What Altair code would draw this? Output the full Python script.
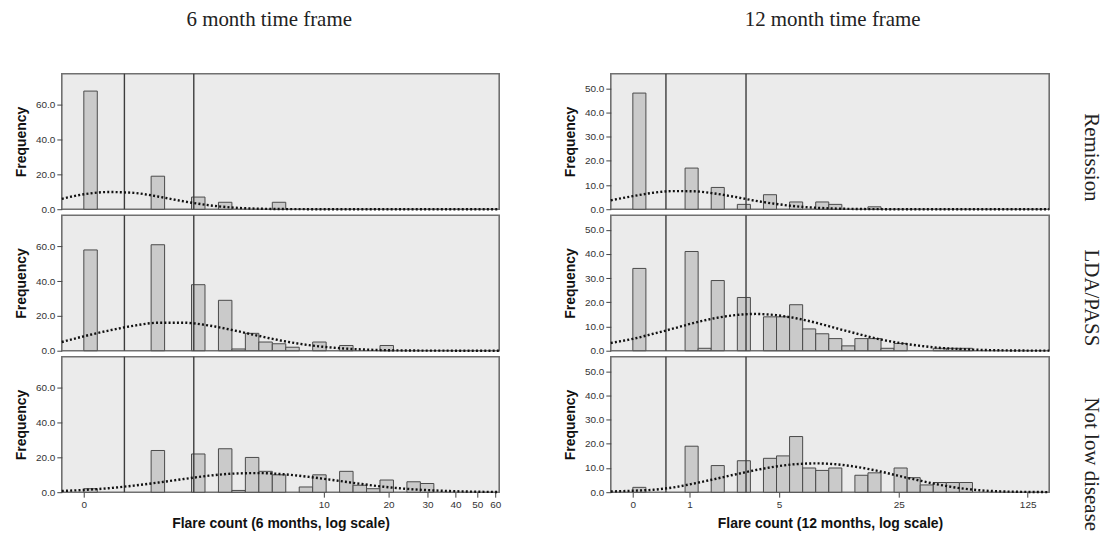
import math
import altair as alt
import pandas as pd

# ---------------- data ----------------
ROW_NAMES = ["Remission", "LDA/PASS", "Not low disease"]

# histogram bins: index of equal-width bins on the log(count + 1) axis
BIN_W6 = 0.1345
BIN_W12 = 0.16

bins6_rem = [0, 5, 8, 10, 14]
freq6_rem = [68, 19, 7, 4, 4]
bins6_lda = [0, 5, 8, 10, 11, 12, 13, 14, 15, 17, 19, 22]
freq6_lda = [58, 61, 38, 29, 1, 10, 5, 4, 2, 5, 3, 3]
bins6_nld = [0, 5, 8, 10, 11, 12, 13, 14, 16, 17, 19, 20, 21, 22, 24, 25]
freq6_nld = [2, 24, 22, 25, 1, 20, 12, 10, 3, 10, 12, 4, 2, 7, 6, 5]

bins12_rem = [0, 4, 6, 8, 10, 12, 14, 15, 18]
freq12_rem = [48, 17, 9, 2, 6, 3, 3, 2, 1]
bins12_lda = [0, 4, 5, 6, 8, 10, 11, 12, 13, 14, 15, 16, 17, 18, 19, 20, 23, 24, 25]
freq12_lda = [34, 41, 1, 29, 22, 14, 14, 19, 9, 7, 5, 2, 5, 5, 1, 3, 1, 1, 1]
bins12_nld = [0, 4, 6, 8, 10, 11, 12, 13, 14, 15, 17, 18, 20, 21, 22, 23, 24, 25]
freq12_nld = [2, 19, 11, 13, 14, 15, 23, 10, 9, 10, 7, 8, 10, 6, 3, 4, 4, 4]

# fitted normal curves (dotted), read at points on the log(count + 1) axis
curve6_x = [-0.22, 0, 0.25, 0.5, 0.75, 1.0, 1.25, 1.5, 1.75, 2.0, 2.25, 2.5,
            2.75, 3.0, 3.25, 3.5, 3.75, 4.0, 4.15]
curve6_rem = [6.0, 8.6, 9.9, 9.4, 7.2, 4.5, 2.3, 0.9, 0.3, 0.1, 0.02, 0, 0, 0, 0, 0, 0, 0, 0]
curve6_lda = [5.0, 8.3, 11.6, 14.4, 16.1, 16.1, 14.5, 11.7, 8.5, 5.5, 3.2, 1.7, 0.8,
              0.33, 0.12, 0.04, 0.01, 0, 0]
curve6_nld = [0.7, 1.3, 2.3, 3.8, 5.6, 7.6, 9.5, 10.7, 11.0, 10.3, 8.8, 6.9, 4.9,
              3.1, 1.8, 1.0, 0.5, 0.2, 0.13]

curve12_x = [-0.27, 0, 0.25, 0.5, 0.75, 1.0, 1.25, 1.5, 1.75, 2.0, 2.25, 2.5, 2.75,
             3.0, 3.25, 3.5, 3.75, 4.0, 4.25, 4.5, 4.75, 5.0, 5.1]
curve12_rem = [3.7, 5.4, 6.8, 7.5, 7.4, 6.5, 5.1, 3.5, 2.2, 1.2, 0.6, 0.25, 0.1,
               0.03, 0, 0, 0, 0, 0, 0, 0, 0, 0]
curve12_lda = [3.2, 4.9, 7.0, 9.2, 11.5, 13.4, 14.7, 15.2, 14.7, 13.4, 11.5, 9.2, 7.0,
               4.9, 3.3, 2.1, 1.2, 0.7, 0.35, 0.17, 0.07, 0.03, 0.02]
curve12_nld = [0.3, 0.6, 1.0, 2.0, 3.6, 5.4, 7.3, 9.1, 10.6, 11.6, 11.9, 11.5, 10.4,
               8.8, 6.8, 4.9, 3.1, 1.7, 0.8, 0.35, 0.15, 0.06, 0.04]

# cut-offs (flare counts) drawn as vertical lines
cuts6 = [0.5, 2]
cuts12 = [0.5, 3]

# axis ticks
xticks6 = [0, 10, 20, 30, 40, 50, 60]
xticks12 = [0, 1, 5, 25, 125]
yticks6 = [0, 20, 40, 60]
yticks12 = [0, 10, 20, 30, 40, 50]

XDOM6 = [-0.22, 4.15]
XDOM12 = [-0.27, 5.1]
YDOM6 = [0, 78]
YDOM12 = [0, 56]

SANS = "Liberation Sans"
SERIF = "Liberation Serif"


def panel(bins, freqs, w, cx, cy, cuts, xdom, ydom, yvals, xticks, xtitle,
          bottom, pw, row_title=None, row_dx=0):
    bar_df = pd.DataFrame({"x": [b * w for b in bins],
                           "x2": [(b + 1) * w for b in bins],
                           "freq": freqs})
    curve_df = pd.DataFrame({"x": cx, "freq": cy})
    cut_df = pd.DataFrame({"x": [math.log(c + 1) for c in cuts]})

    xscale = alt.Scale(domain=xdom, nice=False, zero=False)
    yscale = alt.Scale(domain=ydom, nice=False, zero=False)
    if bottom:
        xaxis = alt.Axis(values=[math.log(v + 1) for v in xticks],
                         labelExpr="format(exp(datum.value) - 1, '.0f')",
                         title=xtitle, grid=False, labelFlush=False)
    else:
        xaxis = None
    yaxis = alt.Axis(values=yvals, format=".1f", title="Frequency", grid=False)

    bars = alt.Chart(bar_df).mark_rect(
        fill="#CACACA", stroke="#4a4a4a", strokeWidth=1
    ).encode(
        x=alt.X("x:Q", scale=xscale, axis=xaxis),
        x2="x2:Q",
        y=alt.Y("freq:Q", scale=yscale, axis=yaxis),
        y2=alt.datum(0),
    )
    rules = alt.Chart(cut_df).mark_rule(color="#3c3c3c", strokeWidth=1.4).encode(
        x=alt.X("x:Q", scale=xscale, axis=xaxis)
    )
    curve = alt.Chart(curve_df).mark_line(
        color="#111111", strokeWidth=2.4, strokeDash=[2, 2.2], interpolate="monotone"
    ).encode(
        x=alt.X("x:Q", scale=xscale, axis=xaxis),
        y=alt.Y("freq:Q", scale=yscale, axis=yaxis),
    )
    props = dict(width=pw, height=136)
    if row_title:
        props["title"] = alt.TitleParams(
            text=row_title, orient="right", anchor="middle", font=SERIF,
            fontSize=21, fontWeight="normal", color="#222", offset=27, dx=row_dx)
    return alt.layer(bars, rules, curve).properties(**props)


left_specs = [(bins6_rem, freq6_rem, curve6_rem), (bins6_lda, freq6_lda, curve6_lda),
              (bins6_nld, freq6_nld, curve6_nld)]
right_specs = [(bins12_rem, freq12_rem, curve12_rem), (bins12_lda, freq12_lda, curve12_lda),
               (bins12_nld, freq12_nld, curve12_nld)]
row_shift = [16, 15, 40]

left_panels = []
right_panels = []
for i in range(3):
    b, f, c = left_specs[i]
    left_panels.append(panel(b, f, BIN_W6, curve6_x, c, cuts6, XDOM6, YDOM6, yticks6,
                             xticks6, "Flare count (6 months, log scale)", i == 2, 439))
    b, f, c = right_specs[i]
    right_panels.append(panel(b, f, BIN_W12, curve12_x, c, cuts12, XDOM12, YDOM12,
                              yticks12, xticks12, "Flare count (12 months, log scale)",
                              i == 2, 440, ROW_NAMES[i], row_shift[i]))

left = alt.vconcat(*left_panels, spacing=6, bounds="flush").properties(
    title=alt.TitleParams("6 month time frame", anchor="middle", font=SERIF,
                          fontSize=21, fontWeight="normal", color="#222",
                          offset=42, dx=10))
right = alt.vconcat(*right_panels, spacing=6, bounds="flush").properties(
    title=alt.TitleParams("12 month time frame", anchor="middle", font=SERIF,
                          fontSize=21, fontWeight="normal", color="#222",
                          offset=42, dx=0))

chart = alt.hconcat(left, right, spacing=57).properties(
    padding={"left": 5, "top": 0, "right": 0, "bottom": 0}
).configure_view(
    fill="#EBEBEB", stroke="#707070", strokeWidth=1.6
).configure_axis(
    labelFont=SANS, labelFontSize=10, labelColor="#333333",
    titleFont=SANS, titleFontSize=14, titleFontWeight="bold", titleColor="#111111",
    tickColor="#444444", tickSize=5, domain=False,
).configure_axisY(titlePadding=7).configure_axisX(titlePadding=7)

chart.save("out.html", embed_options={"renderer": "svg", "actions": False})
